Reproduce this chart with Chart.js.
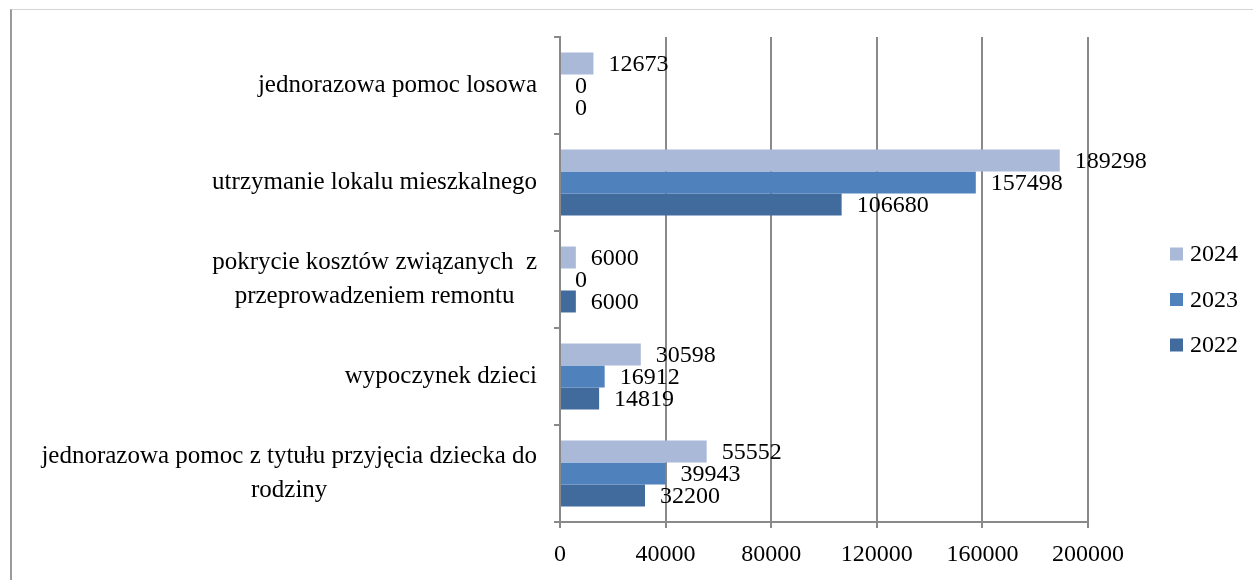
<!DOCTYPE html>
<html>
<head>
<meta charset="utf-8">
<script src="https://cdn.jsdelivr.net/npm/chart.js@4"></script>
<style>
html, body { margin: 0; padding: 0; background: #fff; }
#wrap { position: relative; width: 1253px; height: 580px; }
#frame { position: absolute; left: 10px; top: 9px; right: 0; bottom: 0; border-top: 1px solid #d4d4d4; border-left: 2px solid #9a9a9a; pointer-events: none; }
</style>
</head>
<body>
<div id="wrap"><canvas id="myChart" width="1253" height="580"></canvas><div id="frame"></div></div>
<script>
//Data
const categories = [
  ['jednorazowa pomoc losowa'],
  ['utrzymanie lokalu mieszkalnego'],
  ['pokrycie kosztów związanych  z', 'przeprowadzeniem remontu'],
  ['wypoczynek dzieci'],
  ['jednorazowa pomoc z tytułu przyjęcia dziecka do', 'rodziny']
];
const years = ['2024', '2023', '2022'];
const values2024 = [12673, 189298, 6000, 30598, 55552];
const values2023 = [0, 157498, 0, 16912, 39943];
const values2022 = [0, 106680, 6000, 14819, 32200];
const xTicks = [0, 40000, 80000, 120000, 160000, 200000];

const FONT = '24px "Liberation Serif", serif';
const LABEL_FONT = '25px "Liberation Serif", serif';
const GRAY = '#898989';

// y labels: lines centred inside a right-aligned block, like the original
const yLabels = {
  id: 'yLabels',
  afterDraw(chart) {
    const s = chart.scales.y, ctx = chart.ctx;
    ctx.save();
    ctx.font = LABEL_FONT;
    ctx.fillStyle = '#000';
    ctx.textAlign = 'center';
    ctx.textBaseline = 'middle';
    categories.forEach((lines, i) => {
      const y = s.getPixelForValue(i);
      const w = Math.max(...lines.map(l => ctx.measureText(l).width));
      const cx = s.right - 23 - w / 2;
      lines.forEach((l, j) => ctx.fillText(l, cx, y + (j - (lines.length - 1) / 2) * 34));
    });
    ctx.restore();
  }
};

// value labels at the end of each bar
const valueLabels = {
  id: 'valueLabels',
  afterDatasetsDraw(chart) {
    const ctx = chart.ctx;
    ctx.save();
    ctx.font = FONT;
    ctx.fillStyle = '#000';
    ctx.textAlign = 'left';
    ctx.textBaseline = 'middle';
    chart.data.datasets.forEach((ds, di) => {
      chart.getDatasetMeta(di).data.forEach((bar, i) => {
        ctx.fillText(String(ds.data[i]), bar.x + 15, bar.y + 1);
      });
    });
    ctx.restore();
  }
};

// legend on the right
const sideLegend = {
  id: 'sideLegend',
  afterDraw(chart) {
    const ctx = chart.ctx;
    ctx.save();
    ctx.font = FONT;
    ctx.textAlign = 'left';
    ctx.textBaseline = 'middle';
    chart.data.datasets.forEach((ds, i) => {
      const y = 254 + i * 45.5;
      ctx.fillStyle = ds.backgroundColor;
      ctx.fillRect(1170, y - 6.5, 13, 13);
      ctx.fillStyle = '#000';
      ctx.fillText(ds.label, 1190, y + 1);
    });
    ctx.restore();
  }
};

var ctx = document.getElementById('myChart').getContext('2d');
var myChart = new Chart(ctx, {
  type: 'bar',
  data: {
    labels: categories.map(c => c.join(' ')),
    datasets: [
      { label: years[0], data: values2024, backgroundColor: '#AAB9D7' },
      { label: years[1], data: values2023, backgroundColor: '#4F81BD' },
      { label: years[2], data: values2022, backgroundColor: '#416B9D' }
    ]
  },
  options: {
    indexAxis: 'y',
    responsive: false,
    animation: false,
    categoryPercentage: 0.68,
    barPercentage: 1.0,
    layout: { padding: { top: 37, right: 165, bottom: 0, left: 0 } },
    plugins: { legend: { display: false }, tooltip: { enabled: false } },
    scales: {
      x: {
        min: 0,
        max: 200000,
        afterBuildTicks: s => { s.ticks = xTicks.map(v => ({ value: v })); },
        afterFit: s => { s.height = 58; },
        ticks: { font: { family: '"Liberation Serif", serif', size: 24 }, color: '#000', padding: 12, autoSkip: false, maxRotation: 0, callback: v => String(v) },
        grid: { color: GRAY, lineWidth: 2, drawTicks: true, tickLength: 6 },
        border: { color: GRAY, width: 2 }
      },
      y: {
        afterFit: s => { s.width = 560; },
        ticks: { callback: () => '' },
        grid: { offset: true, drawOnChartArea: false, drawTicks: true, tickLength: 6, color: GRAY, lineWidth: 2 },
        border: { color: GRAY, width: 2 }
      }
    }
  },
  plugins: [yLabels, valueLabels, sideLegend]
});
</script>
</body>
</html>
